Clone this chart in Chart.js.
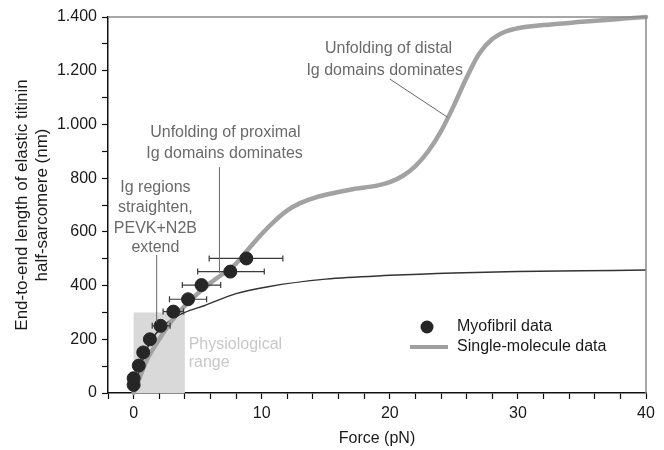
<!DOCTYPE html>
<html>
<head>
<meta charset="utf-8">
<script src="https://cdn.jsdelivr.net/npm/chart.js@4.4.1/dist/chart.umd.min.js"></script>
<style>
html,body{margin:0;padding:0;background:#fff;}
#wrap{width:664px;height:450px;position:relative;}
</style>
</head>
<body>
<div id="wrap"><canvas id="c" width="664" height="450"></canvas></div>
<script>
// Myofibril data (force pN, length nm) with horizontal error bars
const myoForce  = [0, 0, 0.4, 0.75, 1.27, 2.1, 3.1, 4.25, 5.3, 7.55, 8.8];
const myoLength = [30, 55, 102, 151, 200, 250, 303, 349, 402, 452, 501];
const myoErrLow  = [-0.2, -0.2, 0.05, 0.45, 0.9, 1.45, 2.3, 2.8, 3.8, 5.0, 5.9];
const myoErrHigh = [0.2, 0.2, 0.8, 1.05, 1.65, 2.85, 3.9, 5.7, 6.8, 10.2, 11.65];

// Single-molecule data curve
const smForce  = [0, 0.5, 1, 2, 3, 4, 5, 6, 7, 8, 9, 10, 11, 12, 13, 14, 15, 17, 19, 20, 21, 22, 23, 24, 25, 26, 27, 28, 29, 30, 32, 35, 38, 40];
const smLength = [0, 60, 120, 200, 270, 325, 370, 410, 445, 482, 538, 592, 640, 680, 707, 725, 738, 758, 772, 785, 808, 845, 900, 975, 1070, 1175, 1265, 1318, 1345, 1358, 1370, 1382, 1393, 1400];

// Thin model curve
const modelForce  = [0, 0.5, 1, 1.5, 2, 3, 4, 5.5, 8, 10.5, 15, 20, 25, 30, 35, 40];
const modelLength = [0, 90, 160, 205, 235, 275, 300, 325, 370, 396, 424, 438, 447, 452, 455, 458];

// Physiological range box
const physioX = [0, 4];
const physioY = [0, 300];

// Axis ticks
const xTickLabels = [0, 10, 20, 30, 40];
const yTickLabels = [0, 200, 400, 600, 800, 1000, 1200, 1400];

// Annotations: [text, x, y]
const annotTexts = [
  ["Unfolding of distal", 19.9, 1284],
  ["Ig domains dominates", 19.6, 1202],
  ["Unfolding of proximal", 7.16, 968],
  ["Ig domains dominates", 7.1, 893],
  ["Ig regions", 1.7, 763],
  ["straighten,", 1.7, 689],
  ["PEVK+N2B", 1.7, 614],
  ["extend", 1.7, 540]
];
const physioTexts = [["Physiological", 4.3, 179], ["range", 4.3, 115]];
const leaders = [
  [20.0, 1169, 24.5, 1027],
  [6.7, 841, 6.7, 447],
  [1.8, 514, 1.8, 264]
];

const FONT = "'Liberation Sans', Arial, Helvetica, sans-serif";

function fmtThousands(v){
  if (v >= 1000) return Math.floor(v/1000) + '.' + String(v%1000).padStart(3,'0');
  return String(v);
}

const extras = {
  id: 'extras',
  beforeDatasetsDraw(chart){
    const {ctx, scales:{x, y}} = chart;
    ctx.save();
    ctx.fillStyle = '#d9d9d9';
    const x0 = x.getPixelForValue(physioX[0]), x1 = x.getPixelForValue(physioX[1]);
    const y0 = y.getPixelForValue(physioY[0]), y1 = y.getPixelForValue(physioY[1]);
    ctx.fillRect(x0, y1, x1 - x0, y0 - y1);
    ctx.font = '16px ' + FONT;
    ctx.fillStyle = '#c8c8c8';
    ctx.textAlign = 'left';
    ctx.textBaseline = 'middle';
    physioTexts.forEach(t => ctx.fillText(t[0], x.getPixelForValue(t[1]), y.getPixelForValue(t[2])));
    ctx.restore();
  },
  afterDatasetDraw(chart, args){
    if (args.index !== 1) return;
    const {ctx, scales:{x, y}} = chart;
    ctx.save();
    ctx.strokeStyle = '#3a3a3a';
    ctx.lineWidth = 1.2;
    for (let i = 0; i < myoForce.length; i++){
      const py = y.getPixelForValue(myoLength[i]);
      const a = x.getPixelForValue(myoErrLow[i]), b = x.getPixelForValue(myoErrHigh[i]);
      ctx.beginPath();
      ctx.moveTo(a, py); ctx.lineTo(b, py);
      ctx.moveTo(a, py - 3); ctx.lineTo(a, py + 3);
      ctx.moveTo(b, py - 3); ctx.lineTo(b, py + 3);
      ctx.stroke();
    }
    ctx.restore();
  },
  afterDatasetsDraw(chart){
    const {ctx, scales:{x, y}, chartArea} = chart;
    ctx.save();
    ctx.strokeStyle = '#666';
    ctx.lineWidth = 1;
    leaders.forEach(l => {
      ctx.beginPath();
      ctx.moveTo(x.getPixelForValue(l[0]), y.getPixelForValue(l[1]));
      ctx.lineTo(x.getPixelForValue(l[2]), y.getPixelForValue(l[3]));
      ctx.stroke();
    });
    ctx.font = '16px ' + FONT;
    ctx.fillStyle = '#6a6a6a';
    ctx.textAlign = 'center';
    ctx.textBaseline = 'middle';
    annotTexts.forEach(t => ctx.fillText(t[0], x.getPixelForValue(t[1]), y.getPixelForValue(t[2])));
    // legend
    const lx = chartArea.left + 302, ly1 = chartArea.top + 310, ly2 = chartArea.top + 330;
    ctx.fillStyle = '#262626';
    ctx.beginPath(); ctx.arc(lx + 17, ly1, 6.5, 0, Math.PI*2); ctx.fill();
    ctx.strokeStyle = '#a0a0a0'; ctx.lineWidth = 4;
    ctx.beginPath(); ctx.moveTo(lx, ly2); ctx.lineTo(lx + 38, ly2); ctx.stroke();
    ctx.fillStyle = '#1a1a1a';
    ctx.textAlign = 'left';
    ctx.fillText('Myofibril data', lx + 47, ly1);
    ctx.fillText('Single-molecule data', lx + 47, ly2);
    ctx.restore();
  },
  afterDraw(chart){
    const {ctx, chartArea} = chart;
    ctx.save();
    ctx.strokeStyle = '#8a8a8a';
    ctx.lineWidth = 1.5;
    ctx.beginPath();
    ctx.moveTo(chartArea.left, chartArea.top);
    ctx.lineTo(chartArea.right, chartArea.top);
    ctx.lineTo(chartArea.right, chartArea.bottom);
    ctx.stroke();
    ctx.restore();
  }
};

new Chart(document.getElementById('c'), {
  type: 'scatter',
  data: {
    datasets: [
      {
        label: 'Myofibril data',
        data: myoForce.map((f, i) => ({x: f, y: myoLength[i]})),
        backgroundColor: '#262626',
        borderColor: '#262626',
        pointRadius: 6.5,
        pointHoverRadius: 6.5,
        showLine: false
      },
      {
        label: 'Single-molecule data',
        data: smForce.map((f, i) => ({x: f, y: smLength[i]})),
        borderColor: '#a2a2a2',
        borderWidth: 4.5,
        pointRadius: 0,
        showLine: true,
        cubicInterpolationMode: 'monotone',
        borderCapStyle: 'round'
      },
      {
        label: 'Model',
        data: modelForce.map((f, i) => ({x: f, y: modelLength[i]})),
        borderColor: '#333333',
        borderWidth: 1.5,
        pointRadius: 0,
        showLine: true,
        cubicInterpolationMode: 'monotone'
      }
    ]
  },
  options: {
    responsive: false,
    animation: false,
    clip: false,
    layout: { padding: { top: 17, right: 18, left: 0, bottom: 0 } },
    plugins: { legend: { display: false }, tooltip: { enabled: false } },
    scales: {
      x: {
        type: 'linear',
        min: -2, max: 40,
        afterFit(s){ s.height = 57; },
        border: { display: true, color: '#111', width: 1.5 },
        grid: { drawOnChartArea: false, drawTicks: true, tickLength: 6, color: '#111', tickWidth: 1.2 },
        ticks: {
          stepSize: 2, autoSkip: false, maxRotation: 0, padding: 5,
          color: '#1a1a1a', font: { family: FONT, size: 16 },
          callback: v => xTickLabels.includes(v) ? String(v) : ''
        },
        title: { display: true, text: 'Force (pN)', color: '#1a1a1a', font: { family: FONT, size: 16, lineHeight: 1.2 }, padding: { top: 0, bottom: 2 } }
      },
      y: {
        type: 'linear',
        min: 0, max: 1400,
        afterFit(s){ s.width = 108; },
        border: { display: true, color: '#111', width: 1.5 },
        grid: { drawOnChartArea: false, drawTicks: true, tickLength: 6, color: '#111', tickWidth: 1.2 },
        ticks: {
          stepSize: 100, autoSkip: false, padding: 5,
          color: '#1a1a1a', font: { family: FONT, size: 16 },
          callback: v => yTickLabels.includes(v) ? fmtThousands(v) : ''
        },
        title: { display: true, text: ['End-to-end length of elastic titinin', 'half-sarcomere (nm)'], color: '#1a1a1a', font: { family: FONT, size: 17, lineHeight: 1.18 }, padding: { top: 12, bottom: 0 } }
      }
    }
  },
  plugins: [extras]
});
</script>
</body>
</html>
